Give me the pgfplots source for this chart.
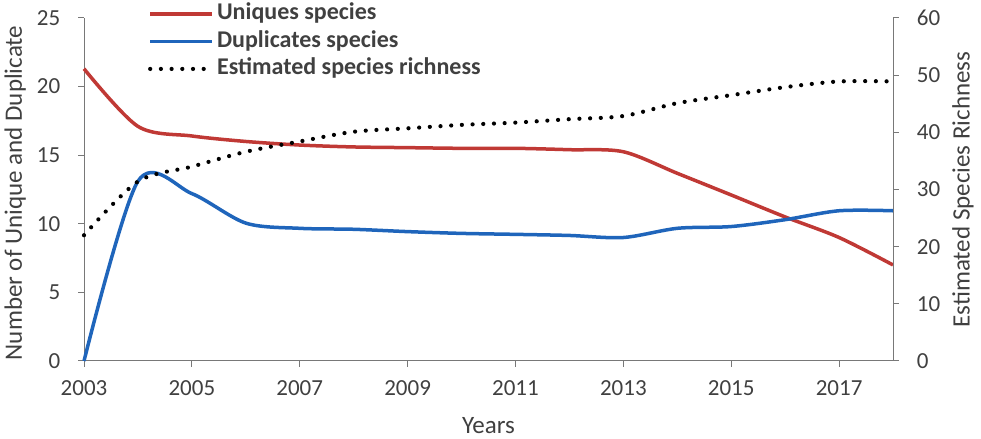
\documentclass[border=0pt]{standalone}
\usepackage{pgfplots}
\pgfplotsset{compat=1.18}
\usepackage{fontspec}
\setmainfont{Carlito}
\definecolor{cred}{RGB}{192,57,53}
\definecolor{cblue}{RGB}{31,101,187}
\definecolor{axgray}{RGB}{120,120,120}
\definecolor{txtgray}{RGB}{64,64,64}
\begin{document}
\fontsize{23bp}{27bp}\selectfont
\begin{tikzpicture}[x=1bp,y=1bp]
\useasboundingbox (0,0) rectangle (981,439);
\pgfplotsset{
  common/.style={
    at={(84bp,78bp)}, anchor=south west, scale only axis,
    width=809bp, height=343bp, xmin=2003, xmax=2018,
    /pgf/number format/assume math mode=true,
    /pgf/number format/1000 sep={},
    tick align=outside, major tick length=6bp,
    every tick/.style={axgray, line width=1pt},
    axis line style={axgray, line width=1pt},
    tick label style={font=\fontsize{23bp}{27bp}\selectfont, text=txtgray},
    label style={font=\fontsize{25bp}{29bp}\selectfont, text=txtgray},
    clip=false,
  }
}
\begin{axis}[common,
  axis x line*=bottom, axis y line*=left,
  ymin=0, ymax=25, ytick={0,5,...,25},
  xtick={2003,2005,...,2017},
  xticklabel style={yshift=-6bp},
  yticklabel style={xshift=-10bp},
  xlabel={Years},
  xlabel style={at={(axis description cs:0.5,-0.187)}, anchor=center},
  ylabel={Number of Unique and Duplicate},
  ylabel style={at={(axis description cs:-0.085,0.49)}, anchor=center, rotate=0},
]
\addplot[cred, line width=3.5bp, smooth] coordinates {
(2003,21.3) (2004,17.1) (2005,16.4) (2006,16.0) (2007,15.74) (2008,15.6)
(2009,15.55) (2010,15.5) (2011,15.5) (2012,15.4) (2013,15.25) (2014,13.68)
(2015,12.1) (2016,10.5) (2017,9.0) (2018,7.0)};
\addplot[cblue, line width=3.5bp, smooth] coordinates {
(2003,0) (2004,13.1) (2005,12.2) (2006,10.05) (2007,9.67) (2008,9.6)
(2009,9.43) (2010,9.3) (2011,9.23) (2012,9.15) (2013,9.0) (2014,9.67)
(2015,9.8) (2016,10.3) (2017,10.95) (2018,10.95)};
\end{axis}
\begin{axis}[common,
  axis x line=none, axis y line*=right,
  ymin=0, ymax=60, ytick={0,10,...,60},
  yticklabel style={xshift=10bp},
  ylabel={Estimated Species Richness},
  ylabel style={at={(axis description cs:1.0865,0.5)}, anchor=center, rotate=0},
  legend style={at={(axis description cs:0.079,1.0525)}, anchor=north west,
    draw=none, fill=none, inner sep=0pt, row sep=0bp,
    font=\fontsize{24bp}{28bp}\selectfont, text=txtgray,
    nodes={inner sep=2.75bp, text height=17bp, text depth=5bp, anchor=west}},
  legend cell align=left,
  legend image code/.code={\draw[#1] (0bp,0bp) -- (62bp,0bp);},
]
\addlegendimage{cred, line width=3.5bp}
\addlegendentry{\textbf{Uniques species}}
\addlegendimage{cblue, line width=3.5bp}
\addlegendentry{\textbf{Duplicates species}}
\addplot[black, line width=4.2bp, line cap=round, dash pattern=on 0bp off 10.7bp, smooth] coordinates {
(2003,22.0) (2004,31.4) (2005,34.0) (2006,36.6) (2007,38.4) (2008,40.1)
(2009,40.7) (2010,41.3) (2011,41.7) (2012,42.3) (2013,42.85) (2014,45.1)
(2015,46.5) (2016,47.9) (2017,48.9) (2018,48.9)};
\addlegendentry{\textbf{Estimated species richness}}
\end{axis}
\end{tikzpicture}
\end{document}
